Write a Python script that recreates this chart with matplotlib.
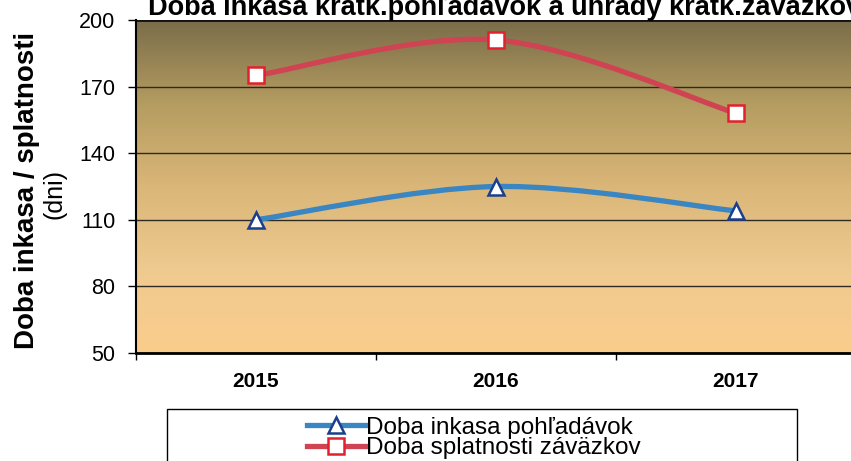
import matplotlib
matplotlib.use("Agg")

import matplotlib.pyplot as plt
import numpy as np
from matplotlib.colors import LinearSegmentedColormap
from matplotlib.path import Path
from matplotlib.patches import PathPatch, Rectangle
from matplotlib.lines import Line2D


years = ["2015", "2016", "2017"]
inkasa = [110, 125, 114]
splatnost = [175, 191, 158]

title = "Doba inkasa krátk.pohľadávok a úhrady krátk.záväzkov"
ylabel_main = "Doba inkasa / splatnosti"
ylabel_unit = "(dni)"
legend_labels = ["Doba inkasa pohľadávok", "Doba splatnosti záväzkov"]
yticks = [50, 80, 110, 140, 170, 200]

BLUE = "#3a86c2"
BLUE_EDGE = "#1c3f8c"
RED = "#cf4352"
RED_EDGE = "#e2202e"

plt.rcParams["font.family"] = ["Liberation Sans", "DejaVu Sans"]


def smooth_path(xs, ys):
    # Excel-like smoothed line: cubic bezier with catmull-rom control points
    pts = np.column_stack([xs, ys]).astype(float)
    ext = np.vstack([pts[0], pts, pts[-1]])
    verts = [pts[0]]
    codes = [Path.MOVETO]
    for i in range(len(pts) - 1):
        p0, p1, p2, p3 = ext[i], ext[i + 1], ext[i + 2], ext[i + 3]
        c1 = p1 + (p2 - p0) / 6.0
        c2 = p2 - (p3 - p1) / 6.0
        verts += [c1, c2, p2]
        codes += [Path.CURVE4] * 3
    return Path(verts, codes)


fig = plt.figure(figsize=(8.51, 4.61), dpi=100)
fig.patch.set_facecolor("white")

W, H = 851, 461
left, right, top, bottom = 136, 856, 20, 353
ax = fig.add_axes([left / W, 1 - bottom / H, (right - left) / W, (bottom - top) / H])

x = np.arange(len(years))
ax.set_xlim(-0.5, len(years) - 0.5)
ax.set_ylim(50, 200)

# gradient background
grad_cmap = LinearSegmentedColormap.from_list(
    "bg", ["#fbcd8c", "#efca90", "#dab678", "#b49c60", "#7a6c4a"]
)
grad = np.linspace(0, 1, 256).reshape(-1, 1)
ax.imshow(grad, cmap=grad_cmap, aspect="auto", origin="lower",
          extent=(-0.5, len(years) - 0.5, 50, 200), zorder=0)

ax.set_yticks(yticks)
ax.set_yticklabels([str(v) for v in yticks], fontsize=15.5)
ax.grid(axis="y", color="#2e2a22", linewidth=1.0, zorder=1)
ax.axhline(200, color="#111111", linewidth=2.0, zorder=2)

ax.set_xticks(x)
ax.set_xticklabels(years, fontsize=15, fontweight="bold")
ax.set_xticks(np.arange(len(years) + 1) - 0.5, minor=True)
ax.tick_params(axis="x", which="major", length=0, pad=14)
ax.tick_params(axis="x", which="minor", length=5, direction="out", width=1)
ax.tick_params(axis="y", length=6, direction="out", width=1, pad=9)

for side in ["top", "right"]:
    ax.spines[side].set_visible(False)
ax.spines["left"].set_linewidth(1.5)
ax.spines["bottom"].set_linewidth(2.0)

series = [
    (inkasa, BLUE, BLUE_EDGE, "^"),
    (splatnost, RED, RED_EDGE, "s"),
]
for vals, col, edge, mk in series:
    ax.add_patch(PathPatch(smooth_path(x, vals), facecolor="none",
                           edgecolor=col, linewidth=3.8, zorder=3,
                           capstyle="round"))
    ax.plot(x, vals, linestyle="none", marker=mk, markersize=11,
            markerfacecolor="white", markeredgecolor=edge,
            markeredgewidth=1.8, zorder=4)

# title (partly cut off at top and right, as in the scan)
fig.text(148 / W, 1 - 15 / H, title, fontsize=19.5, fontweight="bold",
         ha="left", va="baseline")

# y axis label, two lines
fig.text(27 / W, 1 - 190 / H, ylabel_main, rotation=90, fontsize=20,
         fontweight="bold", ha="center", va="center")
fig.text(54 / W, 1 - 194 / H, ylabel_unit, rotation=90, fontsize=18,
         ha="center", va="center")

# legend box (extends below the image edge)
fig.patches.append(Rectangle((167 / W, -0.05), (797 - 167) / W,
                             1 - 409 / H + 0.05, transform=fig.transFigure,
                             facecolor="white", edgecolor="black",
                             linewidth=1.0, zorder=5))
handles = [
    Line2D([], [], color=BLUE, linewidth=3.8, marker="^", markersize=11,
           markerfacecolor="white", markeredgecolor=BLUE_EDGE, markeredgewidth=1.8),
    Line2D([], [], color=RED, linewidth=3.8, marker="s", markersize=11,
           markerfacecolor="white", markeredgecolor=RED_EDGE, markeredgewidth=1.8),
]
leg = fig.legend(handles, legend_labels, loc="upper left",
                 bbox_to_anchor=(292 / W, 1 - 402 / H), frameon=False,
                 fontsize=17.5, handlelength=2.4, handletextpad=0.05,
                 labelspacing=-0.05, borderpad=0.1)
leg.set_zorder(6)

fig.savefig("out.png", dpi=100)
